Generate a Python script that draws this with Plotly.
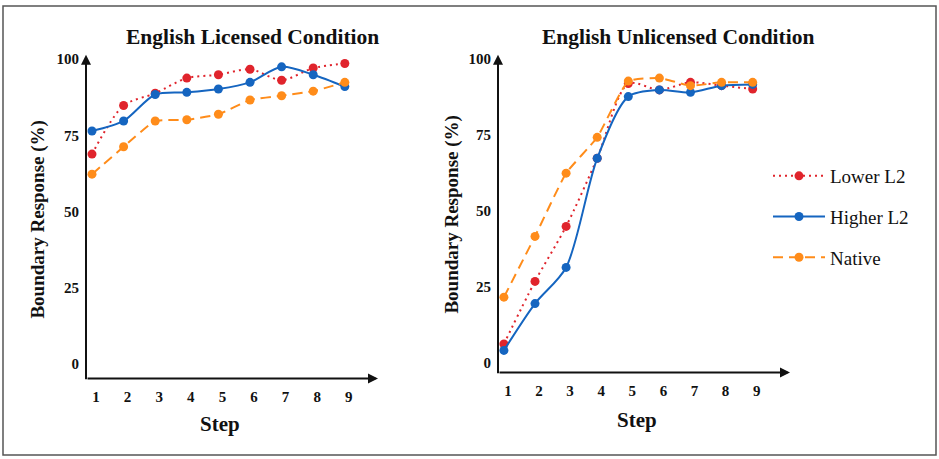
import plotly.graph_objects as go

steps = [1, 2, 3, 4, 5, 6, 7, 8, 9]

# English Licensed Condition
lic_lower = [68.8, 84.8, 88.8, 93.8, 94.9, 96.7, 93.1, 97.1, 98.6]
lic_higher = [76.4, 79.7, 88.4, 89.1, 90.2, 92.4, 97.5, 94.9, 91.0]
lic_native = [62.2, 71.2, 79.7, 80.1, 81.9, 86.6, 88.0, 89.5, 92.4]

# English Unlicensed Condition
unl_lower = [6.3, 26.9, 45.0, 67.4, 92.0, 89.9, 92.4, 91.3, 90.2]
unl_higher = [4.2, 19.6, 31.5, 67.4, 87.7, 89.9, 89.1, 91.3, 91.7]
unl_native = [21.7, 41.7, 62.5, 74.3, 92.8, 93.8, 91.3, 92.4, 92.4]

series_names = ["Lower L2", "Higher L2", "Native"]
y_ticks = [0, 25, 50, 75, 100]
titles = ["English Licensed Condition", "English Unlicensed Condition"]

RED = "#e0242c"
BLUE = "#1565c0"
ORANGE = "#ff8c1a"
FONT = "Liberation Serif"

styles = {
    "Lower L2": dict(color=RED, dash="2px,4px", shape="spline", smoothing=0.8),
    "Higher L2": dict(color=BLUE, dash="solid", shape="spline", smoothing=0.8),
    "Native": dict(color=ORANGE, dash="10px,6px", shape="spline", smoothing=0.4),
}

fig = go.Figure()

panels = [
    ("x", "y", [lic_lower, lic_higher, lic_native], False),
    ("x2", "y2", [unl_lower, unl_higher, unl_native], True),
]
for xa, ya, data, show in panels:
    for name, vals in zip(series_names, data):
        st = styles[name]
        fig.add_trace(go.Scatter(
            x=steps, y=vals, name=name, xaxis=xa, yaxis=ya,
            mode="lines+markers", showlegend=show, legendgroup=name,
            line=dict(color=st["color"], width=2, dash=st["dash"],
                      shape=st["shape"], smoothing=st["smoothing"]),
            marker=dict(color=st["color"], size=9),
        ))

W, H = 939, 459
def px(x):
    return x / W
def py(y):
    return 1 - y / H

tickfont = dict(family=FONT, size=15, color="#111", weight="bold")
common_x = dict(tickmode="array", tickvals=steps, ticktext=[str(s) for s in steps],
                showline=False, showgrid=False, zeroline=False, ticks="",
                tickfont=tickfont, ticklabelstandoff=7, ticklabelshift=4)
common_y = dict(tickmode="array", tickvals=y_ticks, ticktext=[str(v) for v in y_ticks],
                showline=False, showgrid=False, zeroline=False, ticks="",
                tickfont=tickfont, ticklabelstandoff=6)

fig.update_layout(
    width=W, height=H,
    margin=dict(l=0, r=0, t=0, b=0),
    paper_bgcolor="white", plot_bgcolor="white",
    font=dict(family=FONT, color="#111"),
    xaxis=dict(domain=[px(86), px(378)], range=[0.81, 10.05], anchor="y", **common_x),
    yaxis=dict(domain=[py(378), py(52)], range=[-5.0, 101.5], anchor="x", **common_y),
    xaxis2=dict(domain=[px(498), px(790)], range=[0.81, 10.2], anchor="y2", **common_x),
    yaxis2=dict(domain=[py(372), py(52)], range=[-3.1, 101.5], anchor="x2", **common_y),
    legend=dict(x=px(768), y=py(155), xanchor="left", yanchor="top",
                font=dict(family=FONT, size=19, color="#111"),
                tracegroupgap=13, itemwidth=52, bgcolor="rgba(0,0,0,0)"),
    shapes=[dict(type="rect", xref="paper", yref="paper",
                 x0=px(3), x1=px(936), y0=py(455), y1=py(3),
                 line=dict(color="#555", width=1.5))],
)

ann = []
# panel titles
for t, cx in zip(titles, [253, 678]):
    ann.append(dict(text=f"<b>{t}</b>", x=px(cx), y=py(34), xref="paper", yref="paper",
                    xanchor="center", yanchor="middle",
                    showarrow=False, font=dict(family=FONT, size=21.5, color="#111")))
# y titles
for cx, cy in [(38, 218), (452, 213)]:
    ann.append(dict(text="<b>Boundary Response (%)</b>", x=px(cx), y=py(cy), xref="paper",
                    yref="paper", xanchor="center", yanchor="middle",
                    showarrow=False, textangle=-90,
                    font=dict(family=FONT, size=19, color="#111")))
# x titles
for cx, cy in [(220, 424), (637, 420)]:
    ann.append(dict(text="<b>Step</b>", x=px(cx), y=py(cy), xref="paper", yref="paper",
                    xanchor="center", yanchor="middle",
                    showarrow=False, font=dict(family=FONT, size=21, color="#111")))
# axis arrows
for x0, xend, ybot, ytop in [(86, 378, 378, 52), (498, 790, 372, 52)]:
    ann.append(dict(x=px(x0), y=py(ytop), xref="paper", yref="paper", ax=0, ay=ybot - ytop,
                    showarrow=True, arrowhead=2, arrowsize=1, arrowwidth=2, arrowcolor="#111",
                    text=""))
    ann.append(dict(x=px(xend), y=py(ybot), xref="paper", yref="paper", ax=-(xend - x0), ay=0,
                    showarrow=True, arrowhead=2, arrowsize=1, arrowwidth=2, arrowcolor="#111",
                    text=""))
fig.update_layout(annotations=ann)

fig.write_html("out.html", config={"displayModeBar": False},
               post_script="document.body.style.margin='0';")
